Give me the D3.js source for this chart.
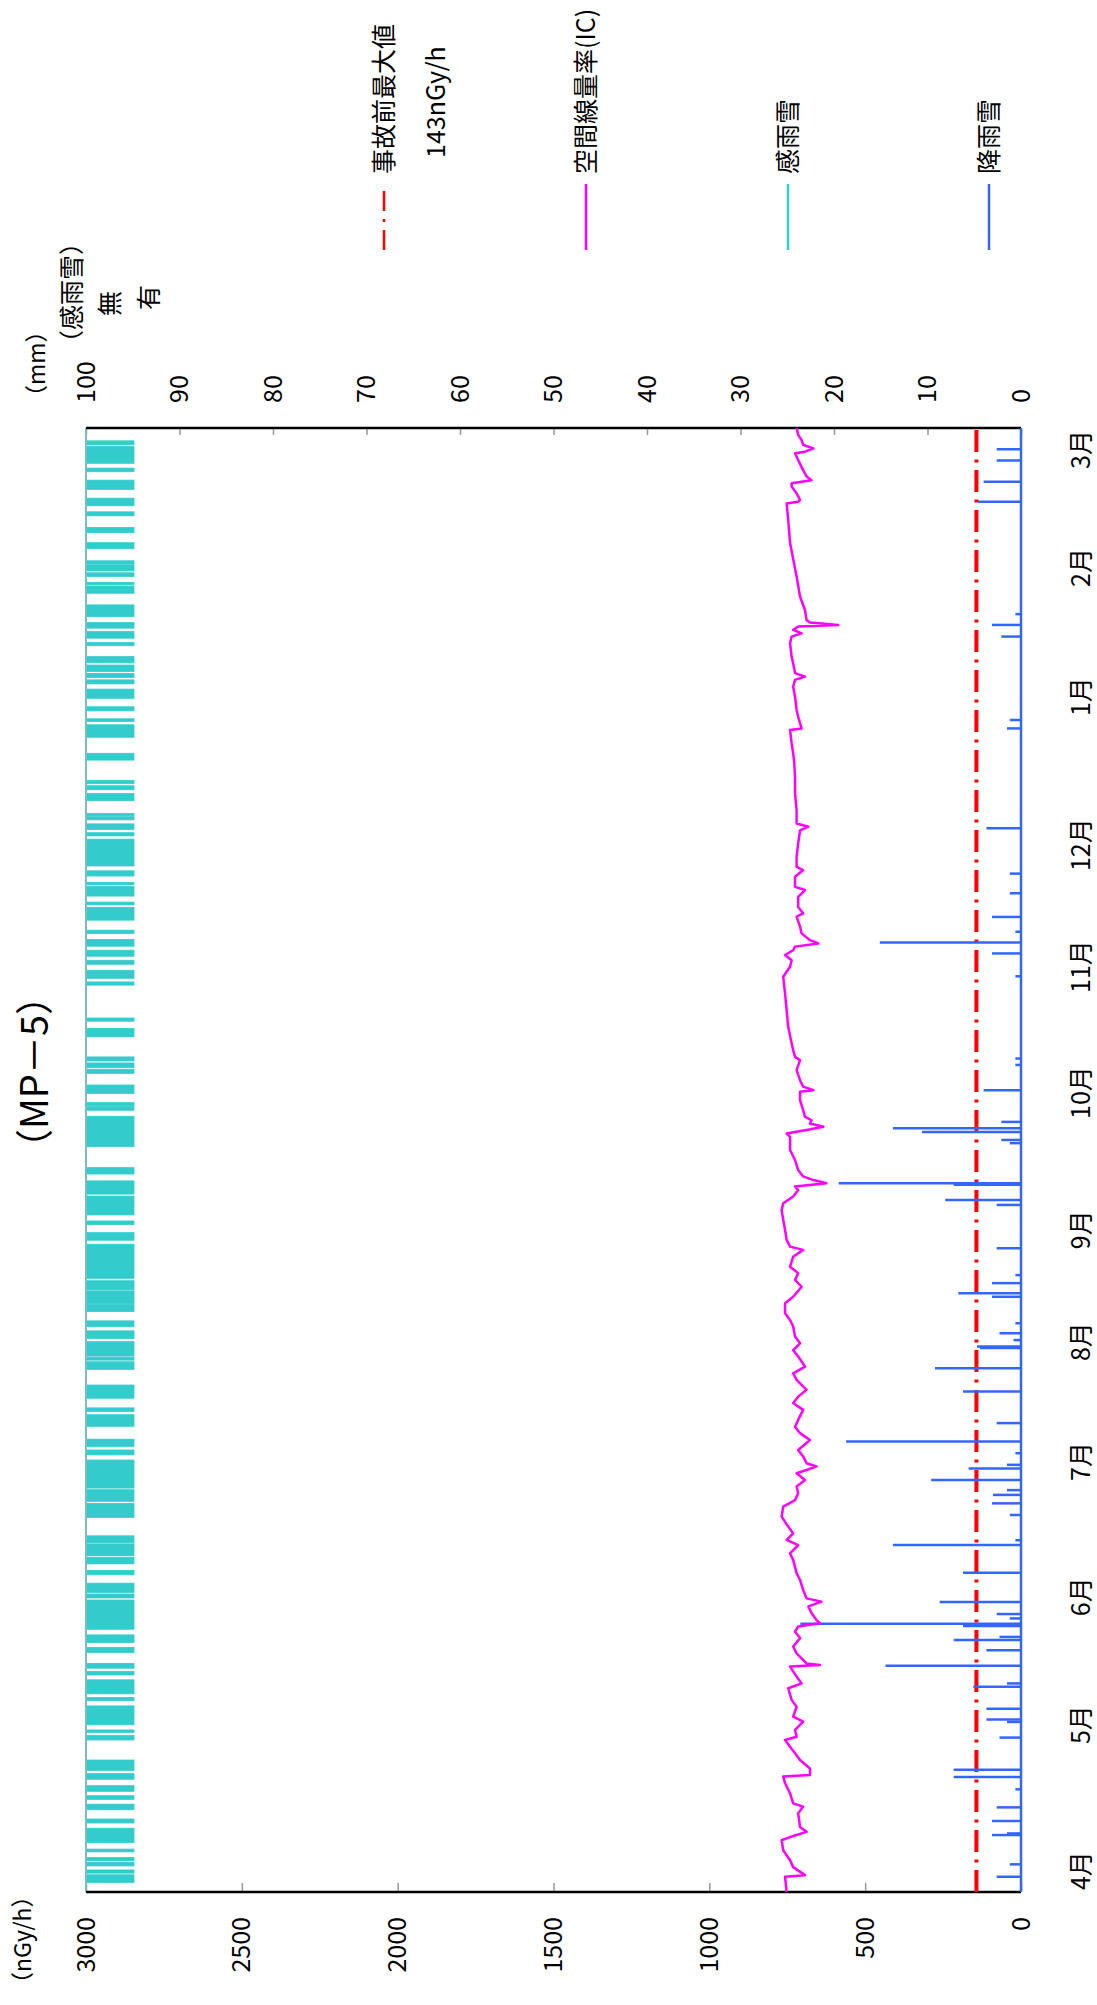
<!DOCTYPE html>
<html>
<head>
<meta charset="utf-8">
<script src="https://cdn.jsdelivr.net/npm/d3@7"></script>
<style>
  html, body { margin: 0; padding: 0; background: #fff; }
</style>
</head>
<body>
<div id="chart"></div>
<script>
// day = days since 1 April, dose in nGy/h, rain in mm
var monthLabels = ['4月', '5月', '6月', '7月', '8月', '9月', '10月', '11月', '12月', '1月', '2月', '3月'];
var monthDays = [5.2, 41.6, 73.5, 107.2, 137.1, 165.0, 199.2, 230.6, 261.0, 297.9, 330.1, 359.5];
var doseTicks = [0, 500, 1000, 1500, 2000, 2500, 3000];
var rainTicks = [0, 10, 20, 30, 40, 50, 60, 70, 80, 90, 100];
var preAccidentMax = 143;

var doseRate = [
	[0, 752], [3.8, 757], [4.2, 693], [6.2, 731], [7.9, 741], [10.4, 763], [12.9, 768], [13.7, 741],
	[15.0, 688], [16.2, 709], [19.6, 715], [21.3, 699], [22.1, 731], [24.6, 741], [27.1, 757], [28.8, 763],
	[29.2, 677], [30.8, 677], [32.9, 709], [34.6, 725], [36.2, 741], [37.9, 757], [38.7, 720], [40.4, 725],
	[42.5, 699], [43.7, 731], [46.2, 720], [47.9, 736], [50.8, 747], [52.0, 704], [53.7, 720], [56.2, 741],
	[56.6, 645], [57.0, 688], [59.5, 720], [61.2, 731], [63.3, 709], [64.9, 725], [66.2, 715], [67.0, 645],
	[67.8, 656], [69.5, 672], [71.2, 682], [72.4, 640], [73.2, 688], [75.3, 699], [77.8, 709], [79.5, 720],
	[82.8, 731], [84.4, 741], [86.5, 715], [87.8, 752], [89.4, 731], [91.1, 747], [93.6, 768], [96.1, 763],
	[97.7, 725], [99.4, 715], [101.1, 720], [102.7, 693], [104.4, 720], [105.2, 688], [106.1, 656], [106.9, 688],
	[108.6, 699], [110.2, 715], [112.7, 677], [114.4, 709], [116.0, 725], [117.7, 715], [120.2, 699], [121.9, 731],
	[123.5, 715], [125.2, 688], [127.7, 720], [129.3, 731], [131.0, 693], [133.5, 715], [135.1, 731], [136.8, 709],
	[138.5, 725], [141.0, 731], [142.6, 741], [144.3, 757], [146.8, 757], [148.4, 731], [150.9, 704], [152.6, 725],
	[154.3, 715], [155.9, 741], [158.4, 731], [160.1, 699], [160.9, 741], [162.6, 752], [165.1, 757], [167.6, 763],
	[170.0, 768], [171.7, 763], [173.4, 731], [175.0, 715], [175.9, 725], [176.7, 624], [177.5, 666], [178.4, 699],
	[180.0, 715], [182.5, 725], [185.0, 741], [188.3, 741], [189.1, 752], [190.0, 688], [190.8, 634], [191.6, 677],
	[192.4, 672], [193.3, 693], [194.9, 699], [197.4, 709], [199.5, 709], [199.9, 666], [200.8, 699], [202.4, 709],
	[204.9, 720], [207.4, 709], [208.2, 725], [209.9, 731], [211.6, 736], [215.7, 747], [219.9, 752], [224.0, 757],
	[228.2, 763], [230.7, 741], [232.3, 736], [233.6, 757], [234.8, 731], [235.7, 725], [236.5, 650], [237.3, 677],
	[239.0, 704], [240.7, 709], [243.2, 720], [244.0, 699], [245.6, 715], [248.1, 715], [249.8, 693], [250.6, 725],
	[253.1, 725], [254.8, 699], [255.6, 720], [258.1, 720], [261.4, 715], [264.7, 709], [265.6, 682], [266.4, 720],
	[269.7, 720], [273.9, 725], [278.0, 725], [282.0, 728], [283.9, 731], [286.4, 736], [289.7, 741], [290.1, 704],
	[291.4, 709], [293.0, 715], [294.7, 720], [298.0, 725], [300.5, 731], [302.2, 725], [303.0, 693], [303.9, 725],
	[306.3, 731], [308.0, 736], [311.3, 741], [313.0, 736], [313.8, 704], [314.7, 731], [315.5, 715], [315.9, 586],
	[316.5, 677], [317.1, 688], [319.6, 693], [323.0, 709], [328.0, 720], [336.3, 741], [342.1, 747], [346.2, 752],
	[346.6, 715], [347.1, 709], [348.7, 720], [350.4, 736], [351.2, 736], [352.0, 672], [352.9, 688], [354.5, 699],
	[357.0, 715], [358.7, 725], [359.1, 693], [359.9, 666], [360.8, 699], [362.0, 704], [363.3, 715], [365, 720]
];

var rainfall = [
	[3.8, 2.6], [6.9, 1.2], [14.2, 3.1], [14.6, 1.5], [17.7, 3.1], [21.1, 2.6], [25.6, 0.6], [28.7, 7.2],
	[30.5, 7.2], [38.5, 2.3], [42.4, 1.5], [43.0, 3.7], [45.7, 3.7], [51.2, 5.1], [52.0, 1.5], [56.4, 14.5],
	[60.3, 3.7], [62.8, 7.2], [63.6, 2.3], [66.3, 6.2], [66.9, 23.6], [68.2, 1.2], [69.3, 2.6], [72.3, 8.7],
	[79.6, 6.2], [86.5, 13.7], [87.7, 0.6], [94.0, 1.2], [96.9, 3.1], [99.0, 3.0], [100.2, 1.5], [102.7, 9.6],
	[105.6, 5.6], [106.5, 1.5], [109.4, 0.6], [112.3, 18.7], [116.9, 2.6], [124.8, 6.2], [130.6, 9.2], [135.6, 4.4],
	[136.0, 4.7], [137.6, 0.8], [139.3, 2.3], [141.8, 0.6], [148.4, 3.1], [149.3, 6.7], [151.8, 3.1], [153.8, 0.6],
	[160.5, 2.6], [171.3, 2.6], [172.5, 8.1], [176.3, 7.2], [176.7, 19.5], [186.7, 1.2], [187.5, 2.1], [189.5, 10.6],
	[190.4, 13.7], [192.0, 2.1], [199.9, 4.0], [206.2, 0.6], [207.8, 0.6], [228.3, 0.6], [234.0, 3.1], [236.7, 15.1],
	[239.4, 0.6], [243.1, 3.1], [249.0, 1.2], [253.9, 1.2], [265.2, 3.7], [290.1, 1.5], [292.2, 1.2], [313.0, 2.1],
	[315.9, 3.1], [318.6, 0.6], [346.6, 4.6], [351.6, 4.0], [356.9, 2.6], [359.7, 2.6]
];

// periods with rain/snow detected (start day, end day)
var rainDetected = [
	[2.4, 4.3], [4.7, 5.5], [6.5, 7.4], [7.8, 8.6], [10.0, 10.7], [12.3, 15.9], [17.2, 18.2], [20.5, 21.9],
	[23.1, 24.0], [25.1, 26.5], [28.1, 29.5], [30.3, 32.9], [37.9, 39.0], [39.8, 40.4], [41.7, 46.4], [47.7, 48.5],
	[49.4, 52.9], [54.1, 55.0], [55.8, 57.0], [59.7, 61.0], [62.2, 64.1], [65.5, 72.8], [73.3, 74.3], [74.7, 77.0],
	[79.1, 80.2], [81.8, 83.4], [83.8, 86.8], [87.1, 88.8], [93.4, 96.9], [97.4, 100.3], [100.7, 107.7], [109.0, 110.2],
	[111.1, 112.9], [116.1, 119.0], [119.8, 120.7], [123.1, 126.4], [130.3, 132.2], [132.6, 133.3], [133.6, 137.2], [138.0, 139.9],
	[141.0, 142.4], [144.7, 146.5], [146.7, 149.9], [150.2, 152.4], [153.0, 161.5], [162.5, 164.4], [166.4, 167.3], [168.8, 173.5],
	[174.0, 177.3], [179.0, 180.6], [185.8, 193.4], [194.9, 195.8], [196.0, 196.8], [199.1, 201.2], [204.1, 205.1], [205.5, 206.7],
	[207.2, 208.2], [213.2, 215.3], [217.1, 217.9], [226.1, 226.9], [227.8, 229.8], [231.3, 232.3], [233.3, 234.8], [235.8, 237.5],
	[239.0, 239.8], [242.3, 245.5], [246.1, 246.8], [248.3, 250.7], [251.1, 251.7], [253.3, 254.6], [255.8, 262.5], [263.3, 264.1],
	[264.9, 266.3], [267.3, 268.1], [268.3, 268.9], [272.1, 273.9], [274.8, 275.8], [276.3, 277.1], [282.2, 283.9], [287.9, 291.0],
	[291.8, 292.5], [294.5, 295.5], [297.6, 299.9], [301.2, 302.2], [302.8, 303.8], [304.3, 305.9], [306.5, 308.0], [310.7, 311.5],
	[312.6, 314.3], [315.1, 316.5], [318.0, 320.9], [323.8, 325.6], [325.9, 326.5], [328.0, 328.9], [329.4, 330.9], [331.1, 331.9],
	[334.9, 336.4], [338.9, 340.2], [343.1, 344.1], [345.6, 347.5], [349.7, 352.0], [354.1, 355.0], [356.2, 360.4], [360.8, 361.8]
];

var legendItems = [
	{ label: '事故前最大値', sub: '143nGy/h', color: '#ff0000', dash: '20,8,3,8' },
	{ label: '空間線量率(IC)', color: '#ff00ff' },
	{ label: '感雨雪', color: '#33cccc' },
	{ label: '降雨雪', color: '#3366ff' }
];

// the chart is drawn landscape and turned a quarter turn to the left
const PAGE_W = 1097, PAGE_H = 2005;
const MARGIN = { TOP: 86, LEFT: 113, BOTTOM: 76, RIGHT: 428 };
const WIDTH = PAGE_H - MARGIN.LEFT - MARGIN.RIGHT;
const HEIGHT = PAGE_W - MARGIN.TOP - MARGIN.BOTTOM;
const FONT = '"Noto Sans CJK JP", "Noto Sans", sans-serif';
const COL = { dose: '#ff00ff', rain: '#3366ff', sense: '#33cccc', limit: '#ff0000' };

var svg = d3.select('#chart').append('svg')
	.attr('width', PAGE_W)
	.attr('height', PAGE_H)
	.style('display', 'block');
svg.append('rect').attr('width', PAGE_W).attr('height', PAGE_H).attr('fill', '#fff');

var root = svg.append('g')
	.attr('transform', 'translate(0,' + PAGE_H + ') rotate(-90)')
	.attr('font-family', FONT);
var g = root.append('g').attr('transform', 'translate(' + MARGIN.LEFT + ',' + MARGIN.TOP + ')');

var x = d3.scaleLinear().domain([0, 365]).range([0, WIDTH]);
var yDose = d3.scaleLinear().domain([0, 3000]).range([HEIGHT, 0]);
var yRain = d3.scaleLinear().domain([0, 100]).range([HEIGHT, 0]);
var ySense = d3.scaleLinear().domain([0, 1]).range([0, 48]);

// rain/snow detection bars along the top
g.append('g').selectAll('rect').data(rainDetected).enter()
	.append('rect')
	.attr('x', function (d) { return x(d[0]); })
	.attr('y', ySense(0))
	.attr('width', function (d) { return Math.max(1, x(d[1]) - x(d[0])); })
	.attr('height', ySense(1) - ySense(0))
	.attr('fill', COL.sense)
	.attr('stroke', COL.sense)
	.attr('stroke-width', 0.8);

// axes
var leftAxis = g.append('g')
	.call(d3.axisLeft(yDose).tickValues(doseTicks).tickFormat(d3.format('d')).tickSize(-9).tickPadding(25));
var rightAxis = g.append('g')
	.attr('transform', 'translate(' + WIDTH + ',0)')
	.call(d3.axisRight(yRain).tickValues(rainTicks).tickFormat(d3.format('d')).tickSize(-7).tickPadding(25));
var monthAxis = g.append('g')
	.attr('transform', 'translate(0,' + HEIGHT + ')')
	.call(d3.axisBottom(x).tickValues(monthDays).tickSize(0).tickFormat(function (d, i) { return monthLabels[i]; }));

[leftAxis, rightAxis, monthAxis].forEach(function (ax) {
	ax.attr('font-family', FONT).attr('font-size', 25);
	ax.select('.domain').remove();
	ax.selectAll('line').attr('stroke', '#999').attr('stroke-width', 1.5);
	ax.selectAll('text').attr('fill', '#000');
});
monthAxis.selectAll('text').attr('y', 60).attr('dy', '0.35em');

// frame
g.append('line').attr('x1', 0).attr('x2', WIDTH).attr('y1', 0).attr('y2', 0)
	.attr('stroke', '#7fbcbc').attr('stroke-width', 2);
g.append('line').attr('x1', 0).attr('x2', 0).attr('y1', 0).attr('y2', HEIGHT)
	.attr('stroke', '#000').attr('stroke-width', 2.5);
g.append('line').attr('x1', WIDTH).attr('x2', WIDTH).attr('y1', 0).attr('y2', HEIGHT)
	.attr('stroke', '#000').attr('stroke-width', 2.5);

// pre-accident maximum
g.append('line')
	.attr('x1', 0).attr('x2', WIDTH)
	.attr('y1', yDose(preAccidentMax)).attr('y2', yDose(preAccidentMax))
	.attr('stroke', COL.limit).attr('stroke-width', 4)
	.attr('stroke-dasharray', '22,7.5,3,7.5');

// rainfall
g.append('g').selectAll('line').data(rainfall).enter()
	.append('line')
	.attr('x1', function (d) { return x(d[0]); })
	.attr('x2', function (d) { return x(d[0]); })
	.attr('y1', yRain(0))
	.attr('y2', function (d) { return yRain(d[1]); })
	.attr('stroke', COL.rain)
	.attr('stroke-width', 2.5);
g.append('line').attr('x1', 0).attr('x2', WIDTH).attr('y1', yRain(0)).attr('y2', yRain(0))
	.attr('stroke', COL.rain).attr('stroke-width', 2.5);

// dose rate
var line = d3.line()
	.x(function (d) { return x(d[0]); })
	.y(function (d) { return yDose(d[1]); });
g.append('path')
	.datum(doseRate)
	.attr('d', line)
	.attr('fill', 'none')
	.attr('stroke', COL.dose)
	.attr('stroke-width', 2.5)
	.attr('stroke-linejoin', 'round');

// titles and units
root.append('text').attr('x', 933).attr('y', 35).attr('dy', '0.35em')
	.attr('text-anchor', 'middle').attr('font-size', 38).text('（MP－5）');
root.append('text').attr('x', 10).attr('y', 23).attr('dy', '0.35em')
	.attr('font-size', 23).text('（nGy/h）');
root.append('text').attr('x', 1597).attr('y', 37).attr('dy', '0.35em')
	.attr('font-size', 23).text('（mm）');
root.append('text').attr('x', 1650).attr('y', 72).attr('dy', '0.35em')
	.attr('font-size', 25).text('（感雨雪）');
root.append('text').attr('x', 1689).attr('y', 110).attr('dy', '0.35em')
	.attr('font-size', 25).text('無');
root.append('text').attr('x', 1695).attr('y', 149).attr('dy', '0.35em')
	.attr('font-size', 25).text('有');

// legend
var legendRows = [384, 586, 788, 989];
var legend = root.append('g').selectAll('g').data(legendItems).enter()
	.append('g')
	.attr('transform', function (d, i) { return 'translate(1755,' + legendRows[i] + ')'; });
legend.append('line')
	.attr('x1', 0).attr('x2', 66)
	.attr('stroke', function (d) { return d.color; })
	.attr('stroke-width', 2.5)
	.attr('stroke-dasharray', function (d) { return d.dash || null; });
legend.append('text')
	.attr('x', 76).attr('dy', '0.35em')
	.attr('font-size', 25)
	.text(function (d) { return d.label; });
legend.filter(function (d) { return d.sub; }).append('text')
	.attr('x', 92).attr('y', 52).attr('dy', '0.35em')
	.attr('font-size', 25)
	.text(function (d) { return d.sub; });
</script>
</body>
</html>
